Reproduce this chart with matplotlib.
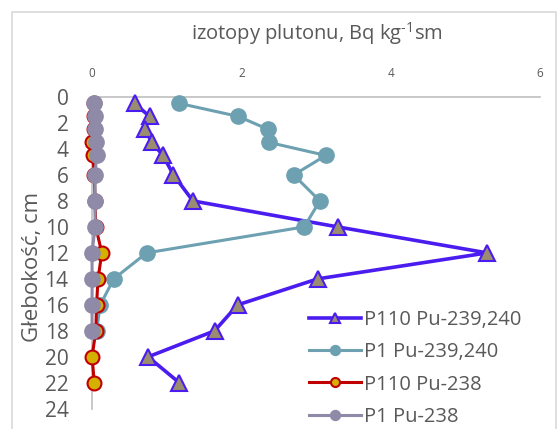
import matplotlib
matplotlib.use("Agg")
import matplotlib.pyplot as plt
from matplotlib.patches import Rectangle

plt.rcParams['font.family'] = ['Open Sans', 'DejaVu Sans']
plt.rcParams['mathtext.fontset'] = 'custom'
plt.rcParams['mathtext.rm'] = 'Open Sans'

# depth of samples, cm
depth_p110 = [0.5, 1.5, 2.5, 3.5, 4.5, 6, 8, 10, 12, 14, 16, 18, 20, 22]
depth_p1 = [0.5, 1.5, 2.5, 3.5, 4.5, 6, 8, 10, 12, 14, 16, 18]

# activities, Bq/kg
p110_pu239 = [0.57, 0.77, 0.71, 0.80, 0.95, 1.09, 1.35, 3.29, 5.29, 3.02, 1.95, 1.64, 0.75, 1.17]
p1_pu239 = [1.17, 1.96, 2.36, 2.37, 3.13, 2.70, 3.05, 2.84, 0.73, 0.29, 0.11, 0.06]
p110_pu238 = [0.02, 0.02, 0.02, 0.0, 0.01, 0.03, 0.04, 0.05, 0.13, 0.08, 0.06, 0.05, 0.0, 0.03]
p1_pu238 = [0.03, 0.04, 0.04, 0.05, 0.06, 0.04, 0.04, 0.04, 0.0, 0.0, 0.0, 0.0]

labels = ['P110 Pu-239,240', 'P1 Pu-239,240', 'P110 Pu-238', 'P1 Pu-238']
txt = '#595959'

fig = plt.figure(figsize=(5.58, 4.29), dpi=100)
ax = fig.add_axes([0.165, 0.047, 0.803, 0.727])

ax.plot(p110_pu239, depth_p110, color='#4B1CF0', lw=2.6, marker='^', ms=11,
        mfc='#9A8C70', mec='#4B1CF0', mew=1.5, clip_on=False, zorder=3, label=labels[0])
ax.plot(p1_pu239, depth_p1, color='#6DA1B1', lw=2.2, marker='o', ms=11,
        mfc='#6DA1B1', mec='#6DA1B1', clip_on=False, zorder=4, label=labels[1])
ax.plot(p110_pu238, depth_p110, color='#C00000', lw=2.2, marker='o', ms=10,
        mfc='#D4B000', mec='#C00000', mew=1.5, clip_on=False, zorder=5, label=labels[2])
ax.plot(p1_pu238, depth_p1, color='#8E8AA8', lw=2.2, marker='o', ms=11,
        mfc='#8E8AA8', mec='#8E8AA8', clip_on=False, zorder=6, label=labels[3])

ax.set_xlim(0, 6)
ax.set_ylim(24, 0)
ax.set_xticks([0, 2, 4, 6])
ax.set_yticks(range(0, 25, 2))
ax.xaxis.tick_top()
ax.tick_params(axis='x', length=0, labelsize=8.5, labelcolor=txt, pad=12)
ax.tick_params(axis='y', length=0, labelsize=15, labelcolor=txt, pad=17)
for s in ['right', 'bottom']:
    ax.spines[s].set_visible(False)
for s in ['left', 'top']:
    ax.spines[s].set_color('#BFBFBF')
    ax.spines[s].set_linewidth(1.2)

ax.set_ylabel('Głebokość, cm', fontsize=16, color=txt)
ax.yaxis.set_label_coords(-0.11, 0.455)
fig.text(0.567, 0.921, r'izotopy plutonu, Bq kg$^{\text{-1}}$sm', fontsize=14.5,
         color=txt, ha='center', va='center')

leg = fig.legend(loc='upper left', bbox_to_anchor=(0.535, 0.3), frameon=False,
                 fontsize=14.5, handlelength=2.6, handletextpad=0.15, labelspacing=0.6,
                 markerscale=0.65, labelcolor=txt, borderpad=0)

fig.patches.append(Rectangle((12 / 558, -0.05), 544 / 558, 1 - 12 / 429 + 0.05,
                             transform=fig.transFigure, fill=False, ec='#D9D9D9', lw=1.2))

fig.savefig('out.png', dpi=100)
